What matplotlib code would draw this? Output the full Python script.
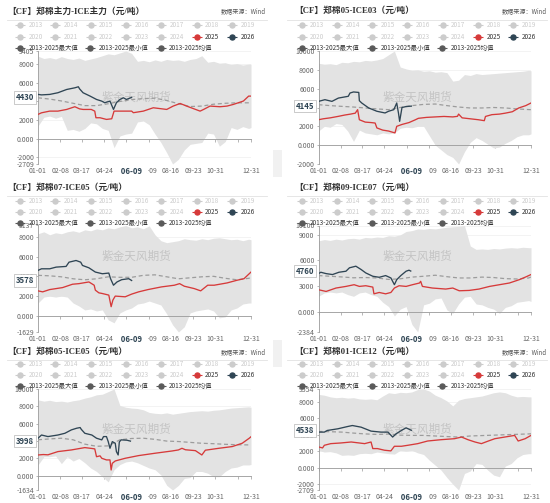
import matplotlib
matplotlib.use('Agg')
import matplotlib.pyplot as plt
from matplotlib.patches import Rectangle
from matplotlib.transforms import blended_transform_factory, offset_copy
import math

plt.rcParams['font.family'] = ['Noto Sans CJK SC', 'DejaVu Sans']

W, H = 550, 503

# ---------------- data ----------------
BAND_DAYS = [0, 10, 20, 30, 40, 50, 60, 70, 80, 90, 100, 110, 120, 130, 140, 150, 160, 170, 180,
             190, 200, 210, 220, 230, 240, 250, 260, 270, 280, 290, 300, 310, 320, 330, 340, 350, 360, 364]
MEAN_DAYS = [0, 20, 40, 60, 80, 100, 120, 140, 160, 180, 200, 220, 240, 260, 280, 300, 320, 340, 360, 364]

X_TICK_DAYS = [0, 38, 75, 113, 151, 189, 227, 265, 303, 341, 364]
X_TICK_LABELS = ['01-01', '02-08', '03-17', '04-24', '', '07-09', '08-16', '09-23', '10-31', '', '12-31']
CURSOR_DAY = 159
CURSOR_LABEL = '06-09'

LEGEND_YEARS_1 = ['2013', '2014', '2015', '2016', '2017', '2018', '2019']
LEGEND_YEARS_2 = ['2020', '2021', '2022', '2023', '2024', '2025', '2026']
LEGEND_STATS = ['2013-2025最大值', '2013-2025最小值', '2013-2025均值']

# Panel 1: 郑棉主力-ICE主力
P1_MAX = [8850, 8600, 8700, 8550, 8800, 8600, 8500, 8650, 8400, 8550, 8700, 8900, 9100, 9000, 9200, 9405,
          9150, 8300, 8400, 8250, 8450, 8300, 8500, 8400, 8450, 8300, 8500, 8600, 8900, 8200, 8300, 8100,
          8150, 7950, 8050, 7900, 8000, 8000]
P1_MIN = [1360, 2300, 2430, 2200, 2400, 900, 1000, 800, 1100, 1700, 1600, 1100, 900, -960, 300, 500, 600,
          1800, 1900, 1500, 500, -400, -1500, -2709, -2200, -1200, -600, -500, -400, 600, 500, -800, -300,
          1200, 1000, 1300, 1100, 1200]
P1_MEAN = [4390, 4250, 4050, 3800, 3550, 3550, 3750, 4000, 4200, 4300, 4350, 4100, 3750, 3450, 3500, 3700,
           3800, 3850, 3850, 3850]
P1_D25 = [0, 6, 20, 34, 49, 63, 71, 77, 91, 97, 99, 106, 117, 126, 130, 140, 160, 163, 180, 197, 220, 231,
          243, 254, 277, 283, 294, 311, 323, 334, 351, 360, 364]
P1_V25 = [2610, 2780, 2960, 2960, 3140, 3430, 3200, 3140, 3140, 2960, 2250, 2250, 2070, 2140, 2960, 2960,
          2960, 2790, 2960, 3320, 3140, 3500, 3780, 3500, 2960, 3140, 3500, 3430, 3500, 3680, 4040, 4570, 4570]
P1_D26 = [0, 6, 20, 34, 49, 63, 69, 71, 77, 89, 100, 109, 114, 123, 129, 134, 140, 146, 151, 160]
P1_V26 = [4750, 4700, 4750, 4930, 5280, 5460, 5570, 5350, 4930, 4570, 4210, 4030, 3860, 4030, 3140, 3860,
          4210, 4390, 4210, 4430]

# Panel 2: 郑棉05-ICE03
P2_MAX = [8700, 8600, 8650, 8550, 8800, 8750, 8900, 8850, 9000, 8950, 9050, 9200, 9600, 10000, 8300, 8100,
          7950, 8000, 7850, 7900, 7750, 7800, 7700, 6800, 6900, 7500, 7400, 7600, 7500, 7550, 7600, 7650,
          7700, 7750, 7800, 7850, 7950, 7900]
P2_MIN = [1500, 2000, 1900, 2300, 2200, 1500, 400, 1600, 1300, 1200, 1100, 1300, 1200, 1300, 1800, 1900,
          1850, 2000, 2000, 1000, 0, -500, -1000, -1300, -2000, -700, 300, 800, 500, 100, -300, -200, 200,
          500, 900, 1100, 1100, 1200]
P2_MEAN = [4300, 4200, 4120, 4050, 3950, 3850, 3770, 4000, 4200, 4330, 4370, 4200, 4050, 3950, 3950, 4000,
           3950, 3850, 3780, 3770]
P2_D25 = [0, 8, 20, 34, 45, 55, 63, 67, 70, 80, 90, 97, 100, 110, 120, 131, 134, 143, 155, 166, 171, 185,
          200, 215, 230, 238, 240, 246, 260, 274, 284, 286, 297, 310, 320, 332, 343, 355, 364]
P2_V25 = [2700, 2800, 2900, 3060, 3200, 3300, 3400, 3770, 2700, 2450, 2400, 2350, 1830, 1600, 1500, 1300,
          2000, 2200, 2400, 2700, 2850, 2950, 3000, 3050, 3000, 3060, 3300, 2900, 2800, 2700, 2600, 3050,
          3240, 3300, 3400, 3550, 3950, 4200, 4480]
P2_D26 = [0, 11, 23, 34, 51, 54, 60, 69, 70, 74, 86, 100, 114, 120, 129, 134, 137, 139, 143, 150, 159]
P2_V26 = [4650, 4830, 4650, 5000, 5190, 5540, 5650, 5600, 4720, 4480, 3950, 3600, 3420, 3600, 3770, 4480,
          3400, 2530, 4000, 4100, 4145]

# Panel 3: 郑棉07-ICE05
P3_MAX = [8300, 8500, 8200, 8400, 8300, 8500, 8600, 8450, 8700, 8600, 8800, 8700, 8900, 8800, 9000, 9137,
          8900, 9000, 8800, 9100, 8200, 7600, 7400, 7500, 7600, 7800, 7700, 7650, 7800, 7700, 7850, 7900,
          7800, 7700, 7750, 7600, 7750, 7700]
P3_MIN = [1300, 1900, 2000, 1900, 2000, 1900, 1300, 1000, 600, 700, 500, 600, -400, -700, 300, 600, 800,
          1200, 1300, 1500, 1300, 1100, 200, -900, -1629, -1100, 300, 500, 600, 700, 500, -200, -100, 600,
          800, 1200, 1300, 1300]
P3_MEAN = [4100, 4050, 3950, 3750, 3650, 3750, 3950, 3900, 3900, 4100, 4150, 3950, 3750, 3850, 3950, 4000,
           3800, 3650, 3800, 3860]
P3_D25 = [0, 8, 20, 42, 59, 70, 87, 96, 98, 104, 110, 121, 125, 128, 132, 149, 160, 172, 188, 211, 233, 242,
          250, 267, 278, 290, 301, 323, 340, 352, 364]
P3_V25 = [2530, 2430, 2660, 2860, 3200, 3260, 3430, 3100, 2600, 2330, 2260, 2100, 930, 1600, 2000, 1930,
          2200, 2430, 2660, 2930, 3100, 3260, 3000, 2760, 2530, 3100, 3100, 3330, 3600, 3760, 4430]
P3_D26 = [0, 6, 20, 31, 48, 53, 65, 73, 76, 87, 98, 110, 121, 124, 129, 135, 143, 155, 160]
P3_V26 = [4600, 4760, 4760, 4930, 5000, 5430, 5600, 5430, 5100, 4860, 4430, 4260, 4330, 3760, 3100, 3430,
          3660, 3760, 3578]

# Panel 4: 郑棉09-ICE07
P4_MAX = [8300, 8450, 8350, 8500, 8400, 8550, 8600, 8500, 8700, 8650, 8750, 8700, 8900, 8850, 9000, 9400,
          9500, 9700, 9650, 9750, 9700, 9800, 9900, 9950, 10000, 10100, 7700, 7300, 7350, 7300, 7400, 7350,
          7450, 7500, 7450, 7550, 7500, 7500]
P4_MIN = [1800, 2200, 2300, 2200, 2300, 2000, 1800, 2200, 2300, 2000, 1800, 1100, 600, -500, 300, 600,
          -1500, -2384, 800, 1000, 1500, 1600, 200, -200, 900, 1700, 1800, 900, 800, 500, 300, -200, 500,
          700, 1100, 1200, 1300, 1200]
P4_MEAN = [4230, 4150, 4070, 3970, 4000, 3950, 3780, 3850, 4050, 4150, 4270, 4100, 3950, 3950, 4050, 4000,
           3870, 3830, 3950, 4070]
P4_D25 = [0, 13, 30, 47, 61, 70, 81, 93, 95, 104, 115, 124, 130, 138, 150, 161, 173, 175, 178, 195, 218,
          230, 241, 258, 275, 293, 310, 327, 344, 355, 364]
P4_V25 = [2570, 2370, 2770, 2960, 3160, 2960, 3040, 2880, 2090, 2250, 2090, 2250, 2770, 3040, 2960, 3160,
          3360, 3560, 2960, 2770, 2650, 2770, 2450, 2490, 2650, 2960, 3160, 3360, 3750, 4070, 4350]
P4_D26 = [0, 4, 13, 24, 35, 47, 53, 64, 73, 81, 93, 104, 115, 124, 130, 134, 141, 150, 155, 158]
P4_V26 = [4460, 4620, 4460, 4350, 4620, 4740, 5140, 5330, 4940, 4540, 4150, 4030, 4230, 3950, 3160, 3750,
          4230, 4740, 4860, 4760]

# Panel 5: 郑棉05-ICE05
P5_MAX = [8750, 8600, 8700, 8550, 8600, 8500, 8650, 8750, 8950, 9100, 9330, 9400, 9700, 10000, 8100, 7900,
          7800, 7750, 7600, 7300, 7200, 7150, 7250, 7100, 7200, 7300, 7400, 7450, 7500, 7450, 7550, 7600,
          7700, 7800, 7850, 7900, 7950, 7900]
P5_MIN = [1250, 2200, 2200, 2300, 1400, 2200, 1700, 2000, 1500, 900, 500, -100, -700, 700, 1300, 1600,
          1700, 1500, 1200, 900, 700, 100, -1100, -1634, -1100, -300, -200, 500, 500, 300, -100, -100, 500,
          900, 1000, 1250, 1250, 1300]
P5_MEAN = [4150, 4250, 4330, 4150, 3650, 3400, 3450, 4150, 4300, 4330, 4200, 4000, 3950, 3850, 3750, 3700,
           3630, 3580, 3560, 3580]
P5_D25 = [0, 9, 17, 34, 57, 80, 92, 97, 100, 106, 109, 117, 123, 125, 127, 132, 149, 172, 200, 229, 240,
          246, 252, 269, 280, 286, 309, 332, 349, 361, 364]
P5_V25 = [2400, 2450, 2420, 2790, 2980, 3250, 3150, 3100, 2200, 2300, 2020, 1830, 1830, 670, 1440, 1710,
          2020, 2330, 2600, 2860, 2980, 3170, 3000, 2900, 2400, 2950, 3170, 3370, 3750, 4330, 4500]
P5_D26 = [0, 6, 17, 34, 46, 57, 66, 72, 74, 80, 92, 100, 109, 112, 117, 120, 123, 127, 132, 134, 137, 139,
          142, 152, 158]
P5_V26 = [4330, 4700, 4520, 4700, 4900, 5290, 5480, 5560, 5350, 4900, 4700, 4330, 4140, 4520, 4520, 3940,
          3170, 3940, 3750, 2790, 2400, 3900, 4140, 4100, 3998]

# Panel 6: 郑棉01-ICE12
P6_MAX = [8900, 8800, 8600, 8500, 8550, 8450, 8500, 8350, 8300, 8350, 8250, 8700, 9100, 9000, 9150, 9100,
          9200, 9500, 9554, 9300, 8800, 8500, 8100, 7500, 8200, 8400, 8500, 8600, 8700, 8900, 9100, 9200,
          9100, 8800, 8600, 8650, 8600, 8600]
P6_MIN = [2100, 1900, 1950, 1800, 1500, 1550, 1500, 1700, 1750, 1700, 1900, 1800, 1700, 1650, 2100, 2000,
          2100, 1800, 1600, 900, 300, -300, -1200, -2000, -2709, -700, -400, 500, 400, -300, -900, -1100,
          200, 500, 1200, 1600, 1700, 1700]
P6_MEAN = [4400, 4370, 4320, 4200, 4100, 4040, 4080, 3950, 3920, 3920, 3850, 3780, 3720, 3850, 3900, 3950,
           4000, 4050, 4100, 4120]
P6_D25 = [0, 7, 10, 21, 38, 56, 79, 90, 93, 101, 113, 124, 130, 142, 153, 170, 187, 210, 233, 245, 256, 268,
          279, 291, 302, 319, 336, 342, 354, 364]
P6_V25 = [2520, 2400, 2720, 2920, 3000, 3120, 2920, 3120, 2320, 2320, 2120, 2040, 2600, 2600, 2720, 2920,
          3240, 3400, 3520, 3720, 3400, 3120, 2920, 3240, 3520, 3720, 3920, 3240, 3520, 3920]
P6_D26 = [0, 10, 15, 33, 50, 58, 73, 90, 107, 119, 127, 133, 142, 150, 159]
P6_V26 = [4320, 4320, 4520, 4720, 5000, 5120, 4920, 4440, 4320, 4320, 3720, 4120, 4520, 4840, 4538]

PANELS = [
    dict(title='【CF】郑棉主力-ICE主力（元/吨）', source=True, row=0, col=0, step=2000,
         mx=P1_MAX, mn=P1_MIN, mean=P1_MEAN, d25=P1_D25, v25=P1_V25, d26=P1_D26, v26=P1_V26),
    dict(title='【CF】郑棉05-ICE03（元/吨）', source=True, row=0, col=1, step=2000,
         mx=P2_MAX, mn=P2_MIN, mean=P2_MEAN, d25=P2_D25, v25=P2_V25, d26=P2_D26, v26=P2_V26),
    dict(title='【CF】郑棉07-ICE05（元/吨）', source=False, row=1, col=0, step=2000,
         mx=P3_MAX, mn=P3_MIN, mean=P3_MEAN, d25=P3_D25, v25=P3_V25, d26=P3_D26, v26=P3_V26),
    dict(title='【CF】郑棉09-ICE07（元/吨）', source=False, row=1, col=1, step=3000,
         mx=P4_MAX, mn=P4_MIN, mean=P4_MEAN, d25=P4_D25, v25=P4_V25, d26=P4_D26, v26=P4_V26),
    dict(title='【CF】郑棉05-ICE05（元/吨）', source=True, row=2, col=0, step=2000,
         mx=P5_MAX, mn=P5_MIN, mean=P5_MEAN, d25=P5_D25, v25=P5_V25, d26=P5_D26, v26=P5_V26),
    dict(title='【CF】郑棉01-ICE12（元/吨）', source=True, row=2, col=1, step=2000,
         mx=P6_MAX, mn=P6_MIN, mean=P6_MEAN, d25=P6_D25, v25=P6_V25, d26=P6_D26, v26=P6_V26),
]

# ---------------- layout (pixels) ----------------
ROW_Y = [(51, 164), (225.5, 332), (389, 490)]
COL_X = [(38, 251), (318.5, 531)]
TITLE_Y = [11, 187.7, 351.7]
TITLE_X = [7, 294]
SRC_X = [265.7, 547]
SEP_X = [(6.7, 266.7), (286.7, 547)]
LEG_Y = [[25, 36.7, 48.3], [201, 211.5, 222.5], [364.2, 375, 385.7]]
LEG_X0 = [20, 301.5]
WM_Y = [97, 256.5, 429.3]

C_BAND = '#e3e3e3'
C_MEAN = '#9c9c9c'
C_25 = '#d63a3a'
C_26 = '#2f4554'
C_AX = '#9a9a9a'
C_TXT = '#666666'
C_OFF = '#cccccc'
C_STAT = '#5a5a5a'

fig = plt.figure(figsize=(W / 100, H / 100), dpi=100)
fig.patch.set_facecolor('white')

for p in PANELS:
    l, r = COL_X[p['col']]
    t, b = ROW_Y[p['row']]
    ax = fig.add_axes([l / W, 1 - b / H, (r - l) / W, (b - t) / H])
    ax.patch.set_alpha(0)
    ax.set_axisbelow(True)
    lo, hi = min(p['mn']), max(p['mx'])
    ax.set_xlim(0, 364)
    ax.set_ylim(lo, hi)
    ax.fill_between(BAND_DAYS, p['mn'], p['mx'], color=C_BAND, lw=0, zorder=1)
    ax.text(98.5 / (r - l), 1 - (WM_Y[p['row']] - t) / (b - t), '紫金天风期货', transform=ax.transAxes,
            ha='center', va='center', fontsize=8.4, color='#c4c4c4', zorder=2)
    ax.plot(MEAN_DAYS, p['mean'], color=C_MEAN, lw=0.9, dashes=(3.2, 2.2), zorder=3)
    ax.plot(p['d25'], p['v25'], color=C_25, lw=0.95, zorder=4)
    ax.plot(p['d26'], p['v26'], color=C_26, lw=0.95, zorder=5)

    for s in ['top', 'right']:
        ax.spines[s].set_visible(False)
    ax.spines['bottom'].set_position(('data', 0))
    for s in ['left', 'bottom']:
        ax.spines[s].set_color(C_AX)
        ax.spines[s].set_linewidth(0.6)
    ax.set_xticks(X_TICK_DAYS)
    ax.tick_params(axis='x', length=1.8, width=0.5, color=C_AX, labelbottom=False)

    step = p['step']
    ticks = [lo] + [k * step for k in range(math.ceil(lo / step), math.floor(hi / step) + 1)] + [hi]
    ticks = sorted(set(ticks))
    labels = ['0.000' if v == 0 else f'{v:.0f}' for v in ticks]
    ax.set_yticks(ticks, labels)
    ax.tick_params(axis='y', length=1.8, width=0.5, color=C_AX, labelsize=5, labelcolor=C_TXT, pad=1)
    ax.grid(axis='y', color='#eeeeee', lw=0.5, zorder=0)

    btr = blended_transform_factory(ax.transData, ax.transAxes)
    tr = offset_copy(btr, fig=fig, y=-7, units='dots')
    for d, s in zip(X_TICK_DAYS, X_TICK_LABELS):
        if s:
            ax.text(d, 0, s, transform=tr, ha='center', va='center', fontsize=5, color=C_TXT,
                    clip_on=False, zorder=6)
    tr2 = offset_copy(btr, fig=fig, x=1.7, y=-7, units='dots')
    ax.text(CURSOR_DAY, 0, ' ' + CURSOR_LABEL + '   ', transform=tr2, ha='center', va='center',
            fontsize=5.6, fontweight='bold', color=C_26, clip_on=False, zorder=7,
            bbox=dict(boxstyle='square,pad=0.2', fc='white', ec='none'))

    ytr = offset_copy(blended_transform_factory(ax.transAxes, ax.transData), fig=fig, x=-4, units='dots')
    ax.text(0, p['v26'][-1], f"{p['v26'][-1]:.0f}", transform=ytr, ha='right', va='center',
            fontsize=5.6, fontweight='bold', color=C_26, clip_on=False, zorder=7,
            bbox=dict(boxstyle='square,pad=0.22', fc='white', ec='#b5b5b5', lw=0.5))

# ---------------- overlay: titles, legends ----------------
ov = fig.add_axes([0, 0, 1, 1], zorder=10)
ov.set_xlim(0, W)
ov.set_ylim(H, 0)
ov.axis('off')
ov.patch.set_visible(False)

ov.add_patch(Rectangle((273, 150), 8.5, 27, color='#f1f1f1', lw=0))
ov.add_patch(Rectangle((273, 340), 8.5, 27, color='#f1f1f1', lw=0))


def legend_item(x, y, color, text, tcolor):
    ov.plot([x - 5, x + 5], [y, y], color=color, lw=0.8, solid_capstyle='butt')
    ov.plot([x], [y], marker='o', ms=3.6, color=color, mec=color)
    ov.text(x + 8.5, y, text, ha='left', va='center', fontsize=4.6, color=tcolor)


for p in PANELS:
    row, col = p['row'], p['col']
    ov.text(TITLE_X[col], TITLE_Y[row], p['title'], ha='left', va='center', fontsize=6.3,
            color='#333333', family=['Liberation Serif', 'Noto Sans CJK SC'], fontweight='bold')
    if p['source']:
        ov.text(SRC_X[col], TITLE_Y[row], '数据来源：Wind', ha='right', va='center', fontsize=4.4,
                color='#555555')
    ov.plot(SEP_X[col], [TITLE_Y[row] + 8.5] * 2, color='#e2e2e2', lw=0.6)
    x0 = LEG_X0[col]
    ly = LEG_Y[row]
    for i, yr in enumerate(LEGEND_YEARS_1):
        legend_item(x0 + i * 35.3, ly[0], C_OFF, yr, C_OFF)
    for i, yr in enumerate(LEGEND_YEARS_2):
        if yr == '2025':
            legend_item(x0 + i * 35.3, ly[1], C_25, yr, '#333333')
        elif yr == '2026':
            legend_item(x0 + i * 35.3, ly[1], C_26, yr, '#333333')
        else:
            legend_item(x0 + i * 35.3, ly[1], C_OFF, yr, C_OFF)
    for i, s in enumerate(LEGEND_STATS):
        legend_item(x0 + i * 70.3, ly[2], C_STAT, s, '#333333')

fig.savefig('out.png', dpi=100)
